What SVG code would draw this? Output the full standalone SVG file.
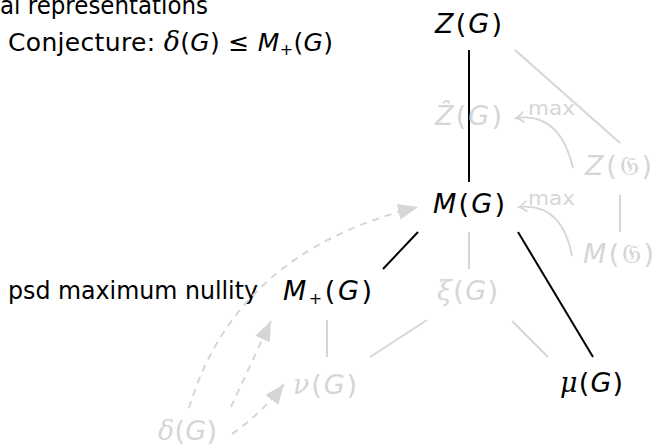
<svg xmlns="http://www.w3.org/2000/svg" width="656" height="448" viewBox="0 0 656 448">
<style>
text { font-family: "DejaVu Sans", sans-serif; font-size: 25px; fill: #000; }
.m { font-size: 27px; }
.lt { fill: #d6d6d6; }
.i { font-style: italic; }
.g { font-family: "DejaVu Serif", "Liberation Serif", serif; font-style: italic; font-size: 27px; }
.sub { font-size: 16px; }
.mx { font-size: 20px; fill: #d6d6d6; }
.blk { stroke: #000; stroke-width: 2; fill: none; }
.lite { stroke: #d6d6d6; stroke-width: 2; fill: none; }
.dash { stroke: #d6d6d6; stroke-width: 2; fill: none; stroke-dasharray: 7 6; }
.curv { stroke: #d6d6d6; stroke-width: 1.8; fill: none; }
</style>
<defs>
<marker id="tri" markerUnits="userSpaceOnUse" markerWidth="24" markerHeight="20" refX="20" refY="8" orient="auto" viewBox="0 0 24 16">
<path d="M0,0 L20,8 L0,16 z" fill="#d6d6d6"/>
</marker>
<marker id="open" markerUnits="userSpaceOnUse" markerWidth="14" markerHeight="14" refX="11" refY="7" orient="auto" viewBox="0 0 14 14">
<path d="M3,1.5 Q7,5.5 11,7 Q7,8.5 3,12.5" stroke="#d6d6d6" stroke-width="1.8" fill="none"/>
</marker>
</defs>

<g id="captions">
<text x="0" y="14" textLength="208" lengthAdjust="spacingAndGlyphs">al representations</text>
<text x="8" y="51" textLength="325" lengthAdjust="spacing">Conjecture: <tspan class="g">δ</tspan><tspan>(</tspan><tspan class="i">G</tspan><tspan>) ≤ </tspan><tspan class="i">M</tspan><tspan class="sub" dy="4">+</tspan><tspan dy="-4">(</tspan><tspan class="i">G</tspan><tspan>)</tspan></text>
<text x="8" y="299" textLength="250" lengthAdjust="spacingAndGlyphs">psd maximum nullity</text>
</g>

<g id="connectors">
<line class="blk" x1="469" y1="50" x2="469" y2="182"/>
<line class="blk" x1="418" y1="232" x2="383" y2="269"/>
<line class="blk" x1="518" y1="232" x2="593" y2="357"/>
<line class="lite" x1="515" y1="50" x2="620" y2="143"/>
<line class="lite" x1="620" y1="195" x2="620" y2="232"/>
<line class="lite" x1="469" y1="232" x2="469" y2="269"/>
<line class="lite" x1="427" y1="320" x2="370" y2="357"/>
<line class="lite" x1="512" y1="321" x2="548" y2="357"/>
<line class="lite" x1="327" y1="320" x2="327" y2="357"/>
<path class="curv" d="M573,168 Q560,112 516,118" marker-end="url(#open)"/>
<path class="curv" d="M572,256 Q562,203 519,207" marker-end="url(#open)"/>
<path class="dash" d="M189,408 Q236,251 418,207" marker-end="url(#tri)"/>
<path class="dash" d="M231,407 Q248,370 271,321" marker-end="url(#tri)"/>
<path class="dash" d="M232,434 Q262,413 284,384" marker-end="url(#tri)"/>
<text class="mx" x="528" y="115" textLength="47" lengthAdjust="spacingAndGlyphs">max</text>
<text class="mx" x="528" y="205" textLength="47" lengthAdjust="spacingAndGlyphs">max</text>
</g>

<g id="ZG"><text class="m" x="435" y="33" textLength="67" lengthAdjust="spacing"><tspan class="i">Z</tspan>(<tspan class="i">G</tspan>)</text></g>
<g id="ZhatG"><text class="m lt" x="435" y="125" textLength="67" lengthAdjust="spacing"><tspan class="i">Ẑ</tspan>(<tspan class="i">G</tspan>)</text></g>
<g id="ZfrakG"><text class="m lt" x="585" y="175" textLength="67" lengthAdjust="spacing"><tspan class="i">Z</tspan>(𝔊)</text></g>
<g id="MG"><text class="m" x="433" y="213" textLength="72" lengthAdjust="spacing"><tspan class="i">M</tspan>(<tspan class="i">G</tspan>)</text></g>
<g id="MfrakG"><text class="m lt" x="583" y="263" textLength="71" lengthAdjust="spacing"><tspan class="i">M</tspan>(𝔊)</text></g>
<g id="MplusG"><text class="m" x="283" y="300" textLength="89" lengthAdjust="spacing"><tspan class="i">M</tspan><tspan class="sub" dy="4">+</tspan><tspan dy="-4">(</tspan><tspan class="i">G</tspan>)</text></g>
<g id="xiG"><text class="m lt" x="437" y="300" textLength="61" lengthAdjust="spacing"><tspan class="g">ξ</tspan>(<tspan class="i">G</tspan>)</text></g>
<g id="nuG"><text class="m lt" x="293" y="394" textLength="64" lengthAdjust="spacing"><tspan class="g">ν</tspan>(<tspan class="i">G</tspan>)</text></g>
<g id="muG"><text class="m" x="560" y="392" textLength="63" lengthAdjust="spacing"><tspan class="g">μ</tspan>(<tspan class="i">G</tspan>)</text></g>
<g id="deltaG"><text class="m lt" x="158" y="440" textLength="59" lengthAdjust="spacing"><tspan class="g">δ</tspan>(<tspan class="i">G</tspan>)</text></g>
</svg>
